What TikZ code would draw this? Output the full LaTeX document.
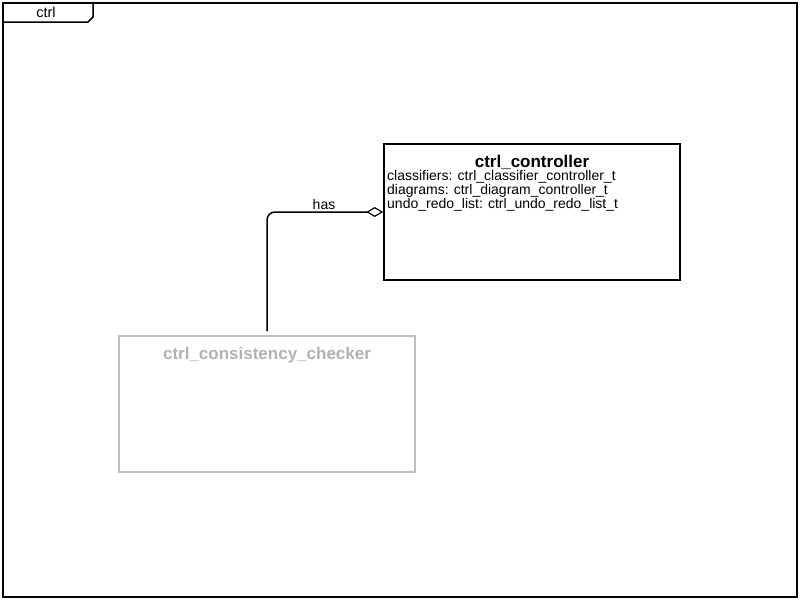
\documentclass[tikz,border=0pt]{standalone}
\usepackage{fontspec}
\setmainfont{Liberation Sans}
\usetikzlibrary{arrows.meta,positioning}

\begin{document}
\begin{tikzpicture}[
  x=1pt, y=-1pt,
  font=\fontsize{14}{15}\selectfont,
  classbox/.style={draw, line width=1.5pt, minimum width=296pt, minimum height=136pt, inner sep=0pt},
  greybox/.style={classbox, draw=black!25},
  title/.style={font=\fontsize{17}{17}\selectfont\bfseries, anchor=base, inner sep=0pt},
  attr/.style={font=\fontsize{14}{12}\selectfont, align=left, inner sep=0pt, anchor=north west},
  aggr/.style={-{Diamond[open, length=17pt, width=10pt, line width=1.2pt]}, line width=1.5pt, rounded corners=8pt}
]
\useasboundingbox (0,0) rectangle (800,600);

% package frame with its tab
\draw[line width=1.5pt] (3,3) rectangle (797,597);
\draw[line width=1.5pt] (3,22) -- (88,22) -- (93,17) -- (93,3);
\node[font=\fontsize{14.5}{14.5}\selectfont, anchor=base] (pkg) at (46,17) {ctrl};

% classes
\node[classbox] (controller) at (532,212) {};
\node[title] (ctrltitle) at (532,167) {ctrl\_controller};
\node[attr] (ctrlattr) at (387,170) {classifiers: ctrl\_classifier\_controller\_t\\
diagrams: ctrl\_diagram\_controller\_t\\
undo\_redo\_list: ctrl\_undo\_redo\_list\_t};

\node[greybox] (checker) at (267,404) {};
\node[title, text=black!30] (chktitle) at (267,359) {ctrl\_consistency\_checker};

% relation
\coordinate (hasstart) at ([yshift=4pt]checker.north);
\draw[aggr] (hasstart) |- (controller.west);
\node[anchor=base] (haslabel) at (324,209) {has};

\end{tikzpicture}
\end{document}
